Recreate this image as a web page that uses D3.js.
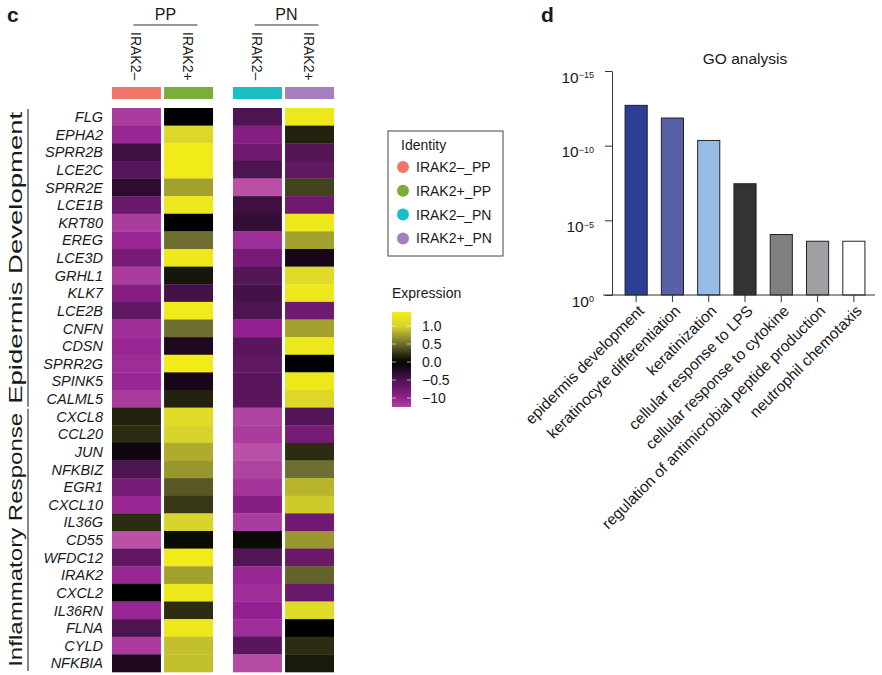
<!DOCTYPE html>
<html>
<head>
<meta charset="utf-8">
<script src="https://cdn.jsdelivr.net/npm/d3@7"></script>
<style>
  body { margin: 0; background: #fff; }
  text { font-family: "Liberation Sans", Arial, Helvetica, sans-serif; fill: #1a1a1a; }
</style>
</head>
<body>
<div id="chart"></div>
<script>
// --- Data ---
const groups = ["PP", "PN"];
const columns = ["IRAK2–", "IRAK2+"];
const identities = ["IRAK2–_PP", "IRAK2+_PP", "IRAK2–_PN", "IRAK2+_PN"];
const identityColors = ["#f2756c", "#7aad3a", "#1cbec4", "#a67dbf"];

const epidermisGenes = ["FLG", "EPHA2", "SPRR2B", "LCE2C", "SPRR2E", "LCE1B", "KRT80", "EREG", "LCE3D",
  "GRHL1", "KLK7", "LCE2B", "CNFN", "CDSN", "SPRR2G", "SPINK5", "CALML5"];
const inflammatoryGenes = ["CXCL8", "CCL20", "JUN", "NFKBIZ", "EGR1", "CXCL10", "IL36G", "CD55", "WFDC12",
  "IRAK2", "CXCL2", "IL36RN", "FLNA", "CYLD", "NFKBIA"];
const genes = epidermisGenes.concat(inflammatoryGenes);

// scaled expression, one row per gene: [IRAK2–_PP, IRAK2+_PP, IRAK2–_PN, IRAK2+_PN]
const expression = [
  [-1.2, 0.0, -0.5, 1.3],
  [-1.05, 1.05, -0.9, 0.15],
  [-0.4, 1.35, -0.75, -0.55],
  [-0.6, 1.35, -0.5, -0.65],
  [-0.3, 0.75, -1.35, 0.3],
  [-0.7, 1.3, -0.4, -0.75],
  [-1.2, 0.0, -0.35, 1.3],
  [-1.05, 0.5, -1.1, 0.75],
  [-0.8, 1.3, -0.8, -0.15],
  [-1.2, 0.1, -0.55, 1.1],
  [-0.9, -0.45, -0.45, 1.3],
  [-0.65, 1.35, -0.5, -0.75],
  [-1.1, 0.5, -1.0, 0.75],
  [-1.05, -0.2, -0.6, 1.3],
  [-1.1, 1.35, -0.65, 0.0],
  [-1.05, -0.15, -0.6, 1.3],
  [-1.2, 0.15, -0.6, 1.05],
  [0.15, 1.1, -1.25, -0.55],
  [0.2, 1.0, -1.2, -0.8],
  [-0.1, 0.8, -1.35, 0.2],
  [-0.5, 0.7, -1.25, 0.5],
  [-0.8, 0.4, -1.15, 0.85],
  [-1.05, 0.25, -0.9, 0.95],
  [0.2, 1.0, -1.2, -0.75],
  [-1.35, 0.05, 0.05, 0.7],
  [-0.65, 1.35, -0.55, -0.7],
  [-1.05, 0.75, -1.05, 0.45],
  [0.0, 1.3, -1.1, -0.7],
  [-1.05, 0.2, -1.0, 1.1],
  [-0.5, 1.3, -1.1, 0.0],
  [-1.2, 0.9, -0.6, 0.2],
  [-0.2, 0.9, -1.3, 0.12]
];

const legendTicks = [1.0, 0.5, 0.0, -0.5, -1.0];
const legendTickLabels = ["1.0", "0.5", "0.0", "−0.5", "−10"];

const goTerms = ["epidermis development", "keratinocyte differentiation", "keratinization",
  "cellular response to LPS", "cellular response to cytokine",
  "regulation of antimicrobial peptide production", "neutrophil chemotaxis"];
const goNegLogP = [12.7, 11.85, 10.35, 7.45, 4.05, 3.6, 3.6];
const goColors = ["#2c3f96", "#5860a8", "#94bce4", "#333333", "#808080", "#a0a0a4", "#ffffff"];
const goTicks = [0, 5, 10, 15];

// --- Setup ---
const width = 882, height = 675;
const svg = d3.select("#chart").append("svg").attr("width", width).attr("height", height);

const color = d3.scaleLinear()
  .domain([-1.4, -1.0, -0.5, 0, 0.5, 1.0, 1.4])
  .range(["#c058aa", "#922090", "#4c1450", "#000000", "#6e6e30", "#d8d42c", "#f4ee16"])
  .clamp(true);

// panel letters
svg.append("text").attr("x", 7).attr("y", 22).style("font-size", "21px").style("font-weight", "bold").text("c");
svg.append("text").attr("x", 541).attr("y", 22).style("font-size", "21px").style("font-weight", "bold").text("d");

// --- Heatmap ---
const xGroup = d3.scaleBand().domain(groups).range([112, 334]).paddingInner(0.165);
const xCol = d3.scaleBand().domain(columns).range([0, xGroup.bandwidth()]).paddingInner(0.06);
const y = d3.scaleBand().domain(genes).range([108, 672]);
const colX = i => xGroup(groups[Math.floor(i / 2)]) + xCol(columns[i % 2]);

const hm = svg.append("g");

groups.forEach(gname => {
  const cx = xGroup(gname) + xGroup.bandwidth() / 2 + 3;
  hm.append("text").attr("x", cx).attr("y", 20).attr("text-anchor", "middle")
    .style("font-size", "16px").text(gname);
  hm.append("line").attr("x1", cx - 32).attr("x2", cx + 32).attr("y1", 25).attr("y2", 25)
    .attr("stroke", "#333").attr("stroke-width", 1.2);
  columns.forEach(c => {
    const x = xGroup(gname) + xCol(c) + xCol.bandwidth() / 2 - 1;
    hm.append("text")
      .attr("transform", `translate(${x},32) rotate(90)`)
      .attr("dy", "0.35em")
      .style("font-size", "14px").text(c);
  });
});

// identity strip
identities.forEach((id, i) => {
  hm.append("rect").attr("x", colX(i)).attr("y", 87).attr("width", xCol.bandwidth()).attr("height", 12)
    .attr("fill", identityColors[i]);
});

// cells
const cells = [];
expression.forEach((row, r) => row.forEach((v, c) => cells.push({ gene: genes[r], col: c, v })));
hm.selectAll("rect.cell").data(cells).join("rect")
  .attr("class", "cell")
  .attr("x", d => colX(d.col))
  .attr("y", d => y(d.gene))
  .attr("width", xCol.bandwidth())
  .attr("height", y.bandwidth() + 0.3)
  .attr("fill", d => color(d.v));

// gene labels
hm.selectAll("text.gene").data(genes).join("text")
  .attr("class", "gene")
  .attr("x", 103).attr("y", d => y(d) + y.bandwidth() / 2)
  .attr("dy", "0.36em").attr("text-anchor", "end")
  .style("font-size", "14.5px").style("font-style", "italic")
  .text(d => d);

// group brackets
[[epidermisGenes, "Epidermis Development", 292], [inflammatoryGenes, "Inflammatory Response", 254]].forEach(([gs, label, len]) => {
  const y0 = y(gs[0]) + 1, y1 = y(gs[gs.length - 1]) + y.bandwidth() - 1;
  hm.append("line").attr("x1", 28).attr("x2", 28).attr("y1", y0).attr("y2", y1)
    .attr("stroke", "#6a6a6a").attr("stroke-width", 1.6);
  hm.append("text")
    .attr("transform", `translate(22,${(y0 + y1) / 2}) rotate(-90)`)
    .attr("text-anchor", "middle")
    .attr("textLength", len).attr("lengthAdjust", "spacingAndGlyphs")
    .style("font-size", "19px").text(label);
});

// --- Identity legend ---
const lg = svg.append("g");
lg.append("rect").attr("x", 388).attr("y", 131).attr("width", 115).attr("height", 125)
  .attr("fill", "none").attr("stroke", "#444").attr("stroke-width", 1);
lg.append("text").attr("x", 401).attr("y", 150).style("font-size", "14px").text("Identity");
identities.forEach((id, i) => {
  const yy = 167 + i * 23.8;
  lg.append("circle").attr("cx", 403).attr("cy", yy).attr("r", 6).attr("fill", identityColors[i]);
  lg.append("text").attr("x", 416).attr("y", yy).attr("dy", "0.36em").style("font-size", "14px").text(id);
});

// --- Expression colour bar ---
const yBar = d3.scaleLinear().domain([0, 1]).range([362, 326]);
const barTop = 312, barBottom = 407;
svg.append("text").attr("x", 392).attr("y", 298).style("font-size", "14px").text("Expression");
const defs = svg.append("defs");
const grad = defs.append("linearGradient").attr("id", "exprGrad").attr("x1", 0).attr("y1", 0).attr("x2", 0).attr("y2", 1);
d3.range(0, 1.0001, 0.05).forEach(t => {
  const v = yBar.invert(barTop + t * (barBottom - barTop));
  grad.append("stop").attr("offset", t).attr("stop-color", color(v));
});
svg.append("rect").attr("x", 392).attr("y", barTop).attr("width", 19).attr("height", barBottom - barTop)
  .attr("fill", "url(#exprGrad)");
legendTicks.forEach((t, i) => {
  const yy = yBar(t);
  [[392, 396], [407, 411]].forEach(([a, b]) =>
    svg.append("line").attr("x1", a).attr("x2", b).attr("y1", yy).attr("y2", yy)
      .attr("stroke", "#fff").attr("stroke-opacity", 0.6).attr("stroke-width", 1));
  svg.append("text").attr("x", 422).attr("y", yy).attr("dy", "0.36em")
    .style("font-size", "14px").text(legendTickLabels[i]);
});

// --- GO analysis bar chart ---
const xGo = d3.scaleBand().domain(goTerms).range([618, 872]).paddingInner(0.39).paddingOuter(0.195);
const yGo = d3.scaleLinear().domain([0, 15]).range([295, 71]);

const go = svg.append("g");
go.append("text").attr("x", 745).attr("y", 64).attr("text-anchor", "middle")
  .style("font-size", "15.5px").text("GO analysis");

go.selectAll("rect.bar").data(goTerms).join("rect")
  .attr("class", "bar")
  .attr("x", d => xGo(d))
  .attr("y", (d, i) => yGo(goNegLogP[i]))
  .attr("width", xGo.bandwidth())
  .attr("height", (d, i) => yGo(0) - yGo(goNegLogP[i]))
  .attr("fill", (d, i) => goColors[i])
  .attr("stroke", "#222").attr("stroke-width", 1);

// y axis
const yAxis = go.append("g").attr("transform", "translate(612,0)")
  .call(d3.axisLeft(yGo).tickValues(goTicks).tickSize(7).tickSizeOuter(0).tickPadding(11));
yAxis.select(".domain").attr("stroke", "#333");
yAxis.selectAll(".tick line").attr("stroke", "#333");
yAxis.selectAll(".tick text").each(function (d) {
  const t = d3.select(this).text(null).attr("dy", "0.72em").style("font-size", "15.5px")
    .attr("font-family", "Liberation Sans, Arial, sans-serif");
  t.append("tspan").text("10");
  t.append("tspan").attr("dy", "-0.5em").style("font-size", "9px").text(d === 0 ? "0" : "−" + d);
});

// x axis
const xAxis = go.append("g").attr("transform", "translate(0,295)")
  .call(d3.axisBottom(xGo).tickSize(7).tickSizeOuter(0));
xAxis.select(".domain").remove();
xAxis.selectAll(".tick line").attr("stroke", "#333");
xAxis.selectAll(".tick text")
  .attr("font-family", "Liberation Sans, Arial, sans-serif")
  .style("font-size", "15.5px")
  .attr("text-anchor", "end")
  .attr("transform", "translate(5,13) rotate(-45)")
  .attr("x", 0).attr("y", 0).attr("dy", "0.35em");
go.append("line").attr("x1", 603).attr("x2", 875).attr("y1", 295).attr("y2", 295)
  .attr("stroke", "#333").attr("stroke-width", 1.2);
</script>
</body>
</html>
